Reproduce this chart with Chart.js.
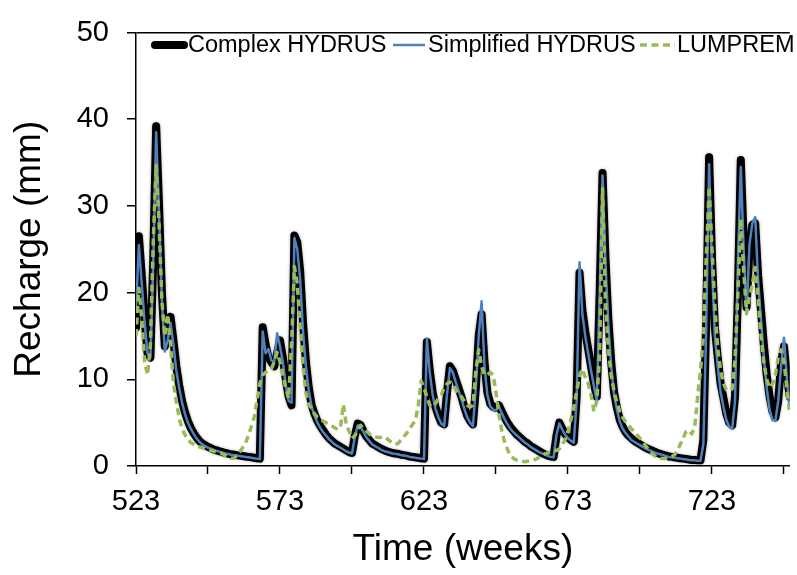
<!DOCTYPE html>
<html>
<head>
<meta charset="utf-8">
<script src="https://cdn.jsdelivr.net/npm/chart.js@4/dist/chart.umd.min.js"></script>
<style>
  html, body { margin: 0; padding: 0; background: #fff; }
  #wrap { width: 797px; height: 575px; }
</style>
</head>
<body>
<div id="wrap"><canvas id="c" width="797" height="575"></canvas></div>
<script>
// ---- Data ----
const weekStart = 523;
const weekEnd = 750;
const weeks = [];
for (let w = weekStart; w <= weekEnd; w++) weeks.push(w);

const complexHydrus = [
  16.0, 26.5, 22.0, 17.0, 13.0, 12.5, 24.0, 39.2, 30.0, 20.0,
  13.8, 15.0, 17.2, 14.5, 11.5, 9.3, 7.5, 6.2, 5.2, 4.4,
  3.8, 3.3, 2.9, 2.6, 2.4, 2.2, 2.05, 1.9, 1.8, 1.7,
  1.6, 1.5, 1.42, 1.35, 1.3, 1.25, 1.2, 1.15, 1.1, 1.05,
  1.0, 0.95, 0.9, 0.85, 16.0, 14.0, 12.5, 12.0, 11.5, 13.0,
  14.5, 12.5, 10.0, 8.0, 7.0, 26.6, 25.8, 22.5, 16.5, 12.0,
  9.0, 7.0, 6.0, 5.2, 4.6, 4.1, 3.6, 3.2, 2.9, 2.6,
  2.4, 2.2, 2.0, 1.8, 1.6, 1.5, 3.5, 4.9, 4.7, 4.0,
  3.4, 3.0, 2.6, 2.4, 2.2, 2.0, 1.85, 1.7, 1.6, 1.5,
  1.45, 1.4, 1.3, 1.25, 1.2, 1.1, 1.05, 1.0, 0.95, 0.9,
  0.85, 14.3, 11.0, 8.5, 6.8, 5.8, 5.0, 4.8, 8.5, 11.5,
  11.0, 10.0, 9.0, 8.0, 6.8, 5.8, 5.2, 4.8, 9.0, 15.0,
  17.5, 12.0, 8.5, 7.2, 6.8, 6.7, 7.0, 6.3, 5.6, 5.0,
  4.5, 4.1, 3.7, 3.4, 3.1, 2.8, 2.6, 2.3, 2.1, 1.9,
  1.7, 1.5, 1.35, 1.2, 1.1, 1.05, 3.5, 5.0, 4.3, 3.7,
  3.3, 3.0, 2.8, 8.0, 22.3, 18.0, 15.5, 13.5, 11.5, 9.5,
  8.0, 20.0, 33.8, 24.0, 17.0, 12.0, 8.5, 6.7, 5.3, 4.5,
  3.9, 3.5, 3.2, 2.9, 2.7, 2.5, 2.3, 2.1, 1.95, 1.8,
  1.65, 1.5, 1.4, 1.3, 1.2, 1.1, 1.05, 1.0, 0.95, 0.9,
  0.85, 0.8, 0.75, 0.7, 0.7, 0.65, 0.65, 3.0, 17.0, 35.6,
  24.0, 16.0, 12.5, 9.5, 7.8, 6.0, 5.0, 4.7, 8.0, 20.0,
  35.3, 26.0, 18.3, 25.0, 27.8, 28.0, 22.0, 18.0, 14.0, 10.5,
  8.0, 6.3, 5.6, 7.5, 12.0, 13.8, 10.5, 8.0
];

const simplifiedHydrus = [
  18.0, 25.5, 21.0, 16.5, 13.0, 12.5, 23.5, 38.5, 29.0, 19.0,
  13.2, 14.5, 16.5, 14.0, 11.0, 9.0, 7.3, 6.0, 5.0, 4.3,
  3.7, 3.2, 2.8, 2.5, 2.3, 2.1, 2.0, 1.85, 1.75, 1.65,
  1.55, 1.45, 1.38, 1.3, 1.25, 1.2, 1.15, 1.1, 1.05, 1.0,
  0.95, 0.9, 0.85, 0.8, 15.5, 13.0, 13.5, 12.2, 12.0, 15.3,
  13.8, 12.0, 9.3, 7.5, 7.3, 26.3, 25.0, 21.5, 15.5, 11.5,
  8.7, 6.8, 5.8, 5.0, 4.4, 3.9, 3.5, 3.1, 2.8, 2.5,
  2.3, 2.1, 1.9, 1.7, 1.55, 1.45, 3.4, 4.7, 4.5, 3.9,
  3.3, 2.9, 2.5, 2.3, 2.1, 1.9, 1.75, 1.65, 1.55, 1.45,
  1.4, 1.35, 1.25, 1.2, 1.15, 1.05, 1.0, 0.95, 0.9, 0.85,
  0.8, 14.7, 10.8, 8.2, 6.6, 5.6, 4.9, 4.6, 8.3, 11.3,
  10.8, 9.7, 8.7, 7.7, 6.6, 5.6, 5.0, 4.6, 9.0, 15.0,
  19.0, 11.5, 8.2, 6.9, 6.5, 6.4, 6.9, 6.1, 5.4, 4.8,
  4.3, 3.9, 3.6, 3.3, 3.0, 2.7, 2.5, 2.2, 2.0, 1.8,
  1.6, 1.45, 1.3, 1.15, 1.05, 1.0, 3.6, 4.9, 4.2, 3.6,
  3.2, 2.9, 2.7, 7.5, 23.5, 17.5, 15.0, 13.0, 11.0, 9.2,
  7.5, 20.0, 33.5, 23.5, 16.5, 11.5, 8.2, 6.5, 5.1, 4.3,
  3.8, 3.4, 3.0, 2.8, 2.6, 2.4, 2.2, 2.0, 1.85, 1.7,
  1.55, 1.45, 1.35, 1.25, 1.15, 1.05, 1.0, 0.95, 0.9, 0.85,
  0.8, 0.75, 0.7, 0.65, 0.65, 0.6, 0.6, 2.5, 16.0, 34.8,
  23.0, 15.0, 11.5, 8.5, 6.8, 5.3, 4.5, 4.3, 7.5, 23.5,
  34.5, 25.0, 17.5, 25.5, 28.0, 28.7, 21.5, 17.0, 12.5, 9.0,
  6.5, 5.3, 5.2, 7.5, 11.5, 14.8, 10.0, 6.5
];

const lumprem = [
  15.0, 20.5, 17.0, 12.0, 10.5, 14.0, 26.0, 34.7, 28.0, 19.0,
  15.0, 17.5, 14.0, 9.5, 7.4, 5.5, 4.3, 3.6, 3.1, 2.7,
  2.5, 2.3, 2.2, 2.1, 2.0, 1.9, 1.8, 1.7, 1.6, 1.5,
  1.4, 1.2, 1.0, 0.9, 0.9, 1.2, 1.6, 2.1, 2.6, 3.5,
  4.5, 5.6, 7.5, 9.5, 10.5, 10.8, 11.0, 11.2, 12.0, 13.1,
  12.0, 10.5, 9.0, 7.8, 14.0, 23.0, 21.0, 16.0, 11.5, 8.5,
  7.0, 6.7, 6.0, 5.6, 5.4, 5.2, 5.0, 4.8, 4.6, 4.4,
  4.2, 4.5, 7.1, 4.8, 4.0, 3.2, 3.5, 4.2, 4.7, 4.3,
  4.0, 3.7, 3.5, 3.4, 3.3, 3.3, 3.4, 3.2, 2.9, 2.7,
  2.5, 2.6, 3.0, 3.4, 3.8, 4.3, 4.8, 5.2, 7.0, 9.8,
  9.0, 8.0, 7.0, 6.8, 7.2, 7.8, 8.2, 9.0, 9.5, 9.7,
  9.5, 8.8, 8.3, 8.0, 7.5, 7.0, 6.8, 7.0, 11.0, 13.4,
  11.5, 10.5, 10.5, 10.8, 10.5, 8.5, 6.0, 4.1, 2.8, 1.9,
  1.2, 0.9, 0.7, 0.6, 0.55, 0.5, 0.55, 0.6, 0.7, 0.8,
  1.0, 1.2, 1.4, 1.5, 1.6, 1.7, 1.8, 2.0, 2.5, 3.0,
  4.0, 5.3, 6.8, 8.5, 10.5, 11.2, 10.2, 9.5, 8.2, 6.3,
  7.5, 13.0, 32.0, 19.0, 13.5, 10.5, 8.6, 7.3, 6.3, 5.6,
  5.1, 4.7, 4.3, 4.0, 3.6, 3.2, 2.8, 2.3, 1.9, 1.5,
  1.2, 1.0, 0.9, 0.85, 0.9, 1.0, 1.1, 1.3, 1.8, 2.5,
  3.2, 4.0, 4.1, 3.7, 4.5, 8.0, 11.0, 15.0, 24.0, 32.2,
  25.0, 18.5, 13.5, 11.0, 9.5, 8.8, 8.7, 8.9, 12.3, 20.0,
  28.5, 22.5, 17.6, 19.5, 21.0, 22.9, 19.5, 15.0, 12.0, 10.0,
  9.0, 9.5, 10.5, 12.5, 13.4, 12.0, 9.0, 5.9
];

const seriesNames = ['Complex HYDRUS', 'Simplified HYDRUS', 'LUMPREM'];
const xTickValues = [523, 548, 573, 598, 623, 648, 673, 698, 723, 748];
const xTickLabels = ['523', '', '573', '', '623', '', '673', '', '723', ''];
const yTickValues = [0, 10, 20, 30, 40, 50];
const xTitle = 'Time (weeks)';
const yTitle = 'Recharge (mm)';

// ---- Build chart ----
const toPoints = vals => weeks.map((w, i) => ({ x: w, y: vals[i] }));
const FONT = '"Liberation Sans", Arial, Helvetica, sans-serif';

const legendItems = [
  { lx0: 155, lx1: 184, tx: 188 },
  { lx0: 393, lx1: 425, tx: 428 },
  { lx0: 640, lx1: 675, tx: 677 }
];

const insideLegend = {
  id: 'insideLegend',
  afterDraw(chart) {
    const ctx = chart.ctx;
    const y = 45;
    ctx.save();
    ctx.font = '23.5px ' + FONT;
    ctx.textBaseline = 'middle';
    ctx.textAlign = 'left';
    chart.data.datasets.forEach((ds, i) => {
      const it = legendItems[i];
      ctx.beginPath();
      ctx.strokeStyle = ds.borderColor;
      ctx.lineWidth = ds.borderWidth;
      ctx.lineCap = ds.borderCapStyle || 'butt';
      ctx.setLineDash(ds.borderDash || []);
      ctx.moveTo(it.lx0, y);
      ctx.lineTo(it.lx1, y);
      ctx.stroke();
      ctx.setLineDash([]);
      ctx.fillStyle = '#000';
      ctx.fillText(ds.label, it.tx, y + 1);
    });
    ctx.restore();
  }
};

const shadowPlugin = {
  id: 'blackShadow',
  beforeDatasetDraw(chart, args) {
    if (args.index === 0) {
      chart.ctx.save();
      chart.ctx.shadowColor = 'rgba(0,0,0,0.35)';
      chart.ctx.shadowBlur = 3;
    }
  },
  afterDatasetDraw(chart, args) {
    if (args.index === 0) chart.ctx.restore();
  }
};

new Chart(document.getElementById('c'), {
  type: 'line',
  data: {
    datasets: [
      {
        label: seriesNames[0],
        data: toPoints(complexHydrus),
        borderColor: '#000000',
        borderWidth: 8,
        borderJoinStyle: 'round',
        borderCapStyle: 'round',
        pointRadius: 0,
        tension: 0,
        order: 3
      },
      {
        label: seriesNames[1],
        data: toPoints(simplifiedHydrus),
        borderColor: '#4F81BD',
        borderWidth: 2.5,
        borderJoinStyle: 'round',
        pointRadius: 0,
        tension: 0,
        order: 2
      },
      {
        label: seriesNames[2],
        data: toPoints(lumprem),
        borderColor: '#9BBB59',
        borderWidth: 3.5,
        borderDash: [7, 4.5],
        borderJoinStyle: 'round',
        pointRadius: 0,
        tension: 0,
        order: 1
      }
    ]
  },
  options: {
    responsive: false,
    animation: false,
    devicePixelRatio: 1,
    layout: { padding: { top: 22, right: 1, left: 0, bottom: 0 } },
    plugins: {
      legend: { display: false },
      tooltip: { enabled: false }
    },
    scales: {
      x: {
        type: 'linear',
        min: weekStart,
        max: weekEnd,
        afterFit: s => { s.height = 109; },
        afterBuildTicks: s => { s.ticks = xTickValues.map(v => ({ value: v })); },
        ticks: {
          autoSkip: false,
          maxRotation: 0,
          padding: 13,
          color: '#000',
          font: { family: FONT, size: 29, lineHeight: 1 },
          callback: (v, i) => xTickLabels[i]
        },
        grid: {
          drawOnChartArea: false,
          drawTicks: true,
          tickLength: 8,
          tickColor: '#000',
          tickWidth: 1.5
        },
        border: { display: true, color: '#000', width: 1.5 },
        title: {
          display: true,
          text: xTitle,
          color: '#000',
          font: { family: FONT, size: 37, lineHeight: 1 },
          padding: { top: 0, bottom: 7 }
        }
      },
      y: {
        type: 'linear',
        min: 0,
        max: 50,
        afterFit: s => { s.width = 136; },
        afterBuildTicks: s => { s.ticks = yTickValues.map(v => ({ value: v })); },
        ticks: {
          padding: 18,
          color: '#000',
          font: { family: FONT, size: 29, lineHeight: 1 }
        },
        grid: {
          drawOnChartArea: true,
          drawTicks: true,
          tickLength: 9,
          tickColor: '#000',
          tickWidth: 1.5,
          lineWidth: 1.5,
          color: c => (c.tick && c.tick.value === 50) ? '#000' : 'rgba(0,0,0,0)'
        },
        border: { display: true, color: '#000', width: 1.5 },
        title: {
          display: true,
          text: yTitle,
          color: '#000',
          font: { family: FONT, size: 37, lineHeight: 1 },
          padding: { top: 11, bottom: 0 }
        }
      }
    }
  },
  plugins: [shadowPlugin, insideLegend]
});
</script>
</body>
</html>
